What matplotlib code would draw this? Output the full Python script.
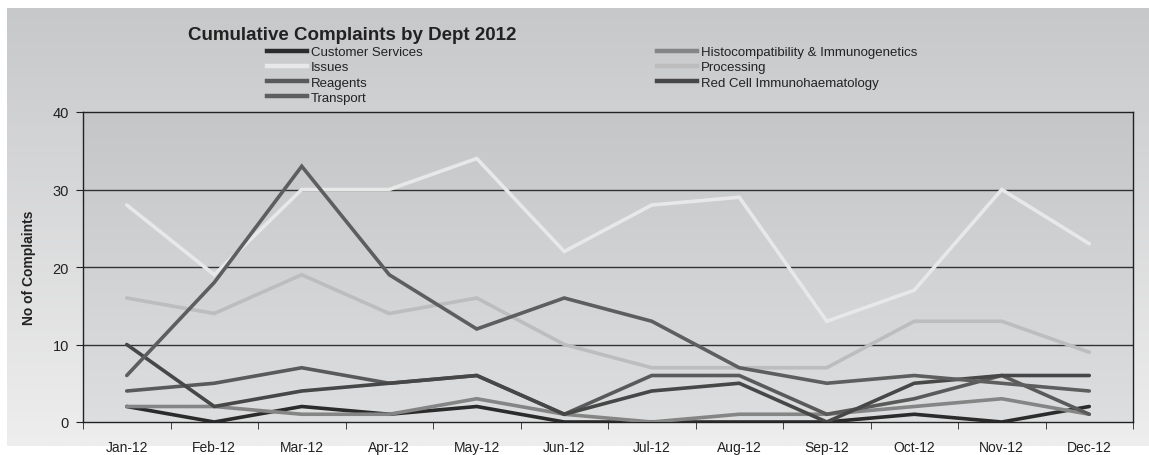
import numpy as np
import matplotlib.pyplot as plt
from matplotlib.lines import Line2D
from matplotlib.colors import LinearSegmentedColormap

months = ['Jan-12', 'Feb-12', 'Mar-12', 'Apr-12', 'May-12', 'Jun-12',
          'Jul-12', 'Aug-12', 'Sep-12', 'Oct-12', 'Nov-12', 'Dec-12']

customer_services = [2, 0, 2, 1, 2, 0, 0, 0, 0, 1, 0, 2]
histo_immuno = [2, 2, 1, 1, 3, 1, 0, 1, 1, 2, 3, 1]
issues = [28, 19, 30, 30, 34, 22, 28, 29, 13, 17, 30, 23]
processing = [16, 14, 19, 14, 16, 10, 7, 7, 7, 13, 13, 9]
reagents = [4, 5, 7, 5, 6, 1, 6, 6, 1, 3, 6, 1]
red_cell = [10, 2, 4, 5, 6, 1, 4, 5, 0, 5, 6, 6]
transport = [6, 18, 33, 19, 12, 16, 13, 7, 5, 6, 5, 4]

series = [
    ('Customer Services', customer_services, '#2b2b2b'),
    ('Histocompatibility & Immunogenetics', histo_immuno, '#858585'),
    ('Issues', issues, '#e8e8e8'),
    ('Processing', processing, '#bdbdbd'),
    ('Reagents', reagents, '#5a5a5a'),
    ('Red Cell Immunohaematology', red_cell, '#474747'),
    ('Transport', transport, '#5e5e5e'),
]

plt.rcParams['font.family'] = ['Liberation Sans', 'DejaVu Sans']

W, H = 1149, 456
fig = plt.figure(figsize=(W / 100, H / 100), dpi=100)
fig.patch.set_facecolor('white')

# fond degrade de la figure
bg = fig.add_axes([7 / W, 1 - 447 / H, (W - 7) / W, (447 - 9) / H], zorder=-10)
grad = np.linspace(0, 1, 256).reshape(-1, 1)
cm_out = LinearSegmentedColormap.from_list('o', ['#c7c8ca', '#eeeeee'])
bg.imshow(grad, aspect='auto', cmap=cm_out, extent=[0, 1, 0, 1])
bg.set_axis_off()

ax = fig.add_axes([83 / W, 1 - 423 / H, (1133 - 83) / W, (423 - 113) / H])
ax.patch.set_alpha(0)
cm_in = LinearSegmentedColormap.from_list('i', ['#c5c6c8', '#dddedf'])
ax.imshow(grad, aspect='auto', cmap=cm_in, extent=[0, 1, 0, 1],
          transform=ax.transAxes, zorder=0)

x = np.arange(len(months))
handles = {}
for name, vals, col in series:
    ax.plot(x, vals, color=col, lw=2.6, solid_capstyle='round',
            solid_joinstyle='miter', zorder=3)
    handles[name] = Line2D([], [], color=col, lw=3.2)

ax.set_xlim(-0.5, len(months) - 0.5)
ax.set_ylim(0, 40)
ax.set_yticks([0, 10, 20, 30, 40])
for yv in [10, 20, 30]:
    ax.axhline(yv, color='#333333', lw=1.0, zorder=1)
for s in ax.spines.values():
    s.set_color('#222222')
    s.set_linewidth(1.0)
ax.set_xticks(x)
ax.set_xticklabels(months)
ax.set_xticks(np.arange(-0.5, len(months)), minor=True)
ax.tick_params(axis='x', which='major', length=0, pad=13, labelsize=10,
               labelcolor='#222222')
ax.tick_params(axis='x', which='minor', length=5, direction='out',
               color='#222222')
ax.tick_params(axis='y', length=5, direction='out', pad=5, labelsize=10.5,
               labelcolor='#222222', color='#222222')
ax.set_ylabel('No of Complaints', fontsize=10, fontweight='bold',
              color='#222222', labelpad=12)

fig.text(352 / W, 1 - 36 / H, 'Cumulative Complaints by Dept 2012',
         ha='center', va='center', fontsize=13.5, fontweight='bold',
         color='#222222')

order = ['Customer Services', 'Issues', 'Reagents', 'Transport',
         'Histocompatibility & Immunogenetics', 'Processing',
         'Red Cell Immunohaematology']
leg = fig.legend([handles[n] for n in order], order, ncol=2,
                 loc='upper left', bbox_to_anchor=(267 / W, 1 - 47 / H),
                 frameon=False, borderpad=0, borderaxespad=0,
                 handlelength=3.0, handletextpad=0.3, labelspacing=0.22,
                 columnspacing=17.8, prop={'size': 9.5})
for t in leg.get_texts():
    t.set_color('#222222')

fig.savefig('out.png', dpi=100, facecolor='white')
